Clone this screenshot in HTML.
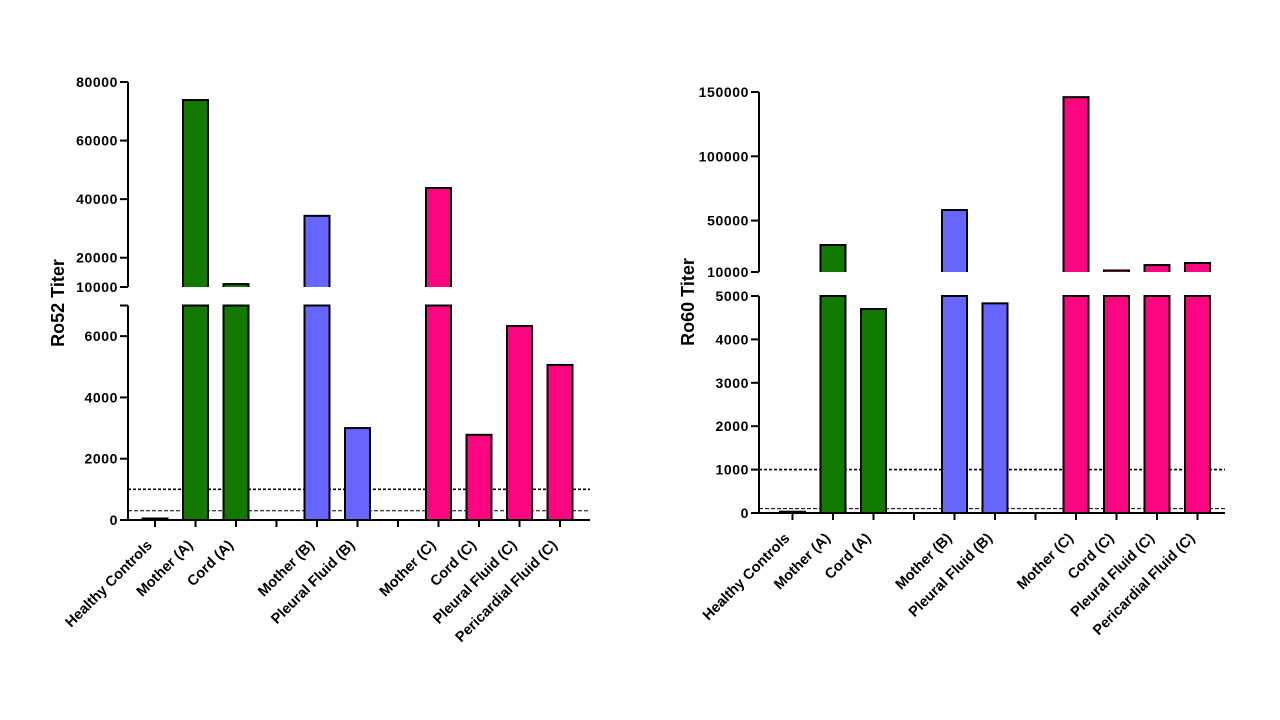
<!DOCTYPE html>
<html><head><meta charset="utf-8"><style>
html,body{margin:0;padding:0;background:#fff;width:1280px;height:720px;overflow:hidden}
svg{display:block}
text{font-family:"Liberation Sans",Arial,sans-serif;font-weight:bold;fill:#000}
</style></head><body>
<svg id="chart" width="1280" height="720" viewBox="0 0 1280 720"></svg>
<script>
const categories = ["Healthy Controls","Mother (A)","Cord (A)","","Mother (B)","Pleural Fluid (B)","","Mother (C)","Cord (C)","Pleural Fluid (C)","Pericardial Fluid (C)"];
const groups = ["none","A","A","gap","B","B","gap","C","C","C","C"];
const ro52Values = [50,73850,11000,null,34300,3000,null,43800,2780,6330,5060];
const ro60Values = [30,31000,4700,null,58200,4830,null,146000,11200,15400,17000];
const ro52UpperTicks = [10000,20000,40000,60000,80000];
const ro52LowerTicks = [0,2000,4000,6000];
const ro60UpperTicks = [10000,50000,100000,150000];
const ro60LowerTicks = [0,1000,2000,3000,4000,5000];
const ro52Cutoffs = [1000,300];
const ro60Cutoffs = [1000,100];

const NS = "http://www.w3.org/2000/svg";
const svg = document.getElementById("chart");
const colorFor = {A:"#127a00",B:"#6666ff",C:"#fb0581",none:"#fff"};
function mk(tag, attrs, parent){
  const e=document.createElementNS(NS,tag);
  for(const k in attrs) e.setAttribute(k,attrs[k]);
  (parent||svg).appendChild(e); return e;
}
function drawChart(cfg){
  const g=mk("g",{});
  
  
  const lo=cfg.lower, up=cfg.upper;
  const yLo=v=>lo.y0-(v-lo.min)/(lo.max-lo.min)*(lo.y0-lo.y1);
  const yUp=v=>up.y0-(v-up.min)/(up.max-up.min)*(up.y0-up.y1);
  const xC=i=>cfg.x0+i*cfg.step;
  cfg.cutoffs.forEach((c,k)=>{
    const l=mk("line",{x1:cfg.axisX,x2:cfg.axisEnd,y1:yLo(c),y2:yLo(c),stroke:"#000","stroke-width":k==0?1.6:1,"stroke-dasharray":k==0?"3,2":"4,2"},g);
    
    
  });
  cfg.values.forEach((v,i)=>{
    if(v===null) return;
    const x=xC(i)-cfg.bw/2, col=colorFor[groups[i]];
    const lowTop=yLo(Math.min(v,lo.max));
    const b=mk("rect",{x:x,y:lowTop,width:cfg.bw,height:Math.max(lo.y0-lowTop,1),fill:col,stroke:"#000","stroke-width":2},g);
    
    
    if(v>up.min){
      const t=yUp(v);
      const b2=mk("rect",{x:x,y:t,width:cfg.bw,height:up.y0-t+2,fill:col,stroke:"#000","stroke-width":2},g);
      
      
      mk("rect",{x:x-2,y:up.y0,width:cfg.bw+4,height:4,fill:"#fff"},g);
    }
  });
  const a1=mk("line",{x1:cfg.axisX,x2:cfg.axisX,y1:lo.y0+1,y2:lo.y1,stroke:"#000","stroke-width":2},g);
  
  
  const a2=mk("line",{x1:cfg.axisX,x2:cfg.axisX,y1:up.y0,y2:up.y1,stroke:"#000","stroke-width":2},g);
  
  
  mk("line",{x1:cfg.axisX-8,x2:cfg.axisX,y1:lo.y1,y2:lo.y1,stroke:"#000","stroke-width":2},g);
  const xa=mk("line",{x1:cfg.axisX-8,x2:cfg.axisEnd,y1:lo.y0,y2:lo.y0,stroke:"#000","stroke-width":2},g);
  
  
  const tick=(y,label)=>{
    mk("line",{x1:cfg.axisX-8,x2:cfg.axisX,y1:y,y2:y,stroke:"#000","stroke-width":2},g);
    const t=mk("text",{x:cfg.axisX-10,y:y+5,"text-anchor":"end","font-size":14,"letter-spacing":"0.6"},g);
    t.textContent=label;
    
    
  };
  cfg.lowerTicks.forEach(v=>tick(yLo(v),v));
  cfg.upperTicks.forEach(v=>tick(yUp(v),v));
  categories.forEach((c,i)=>{
    const x=xC(i);
    mk("line",{x1:x,x2:x,y1:lo.y0,y2:lo.y0+7,stroke:"#000","stroke-width":2},g);
    if(!c) return;
    const tx=x-2, ty=lo.y0+26;
    const t=mk("text",{x:tx,y:ty,"text-anchor":"end","font-size":14.5,transform:`rotate(-45 ${tx} ${ty})`},g);
    t.textContent=c;
    
    
  });
  const tt=mk("text",{x:cfg.titleX,y:cfg.titleY,"text-anchor":"middle","font-size":18,transform:`rotate(-90 ${cfg.titleX} ${cfg.titleY})`},g);
  tt.textContent=cfg.title;
  tt.setAttribute("xml:space","preserve");
  
  
}
drawChart({name:"ro52-chart",values:ro52Values,cutoffs:ro52Cutoffs,title:"Ro52  Titer",titleX:64,titleY:303,
  axisX:128,axisEnd:590,x0:155,step:40.5,bw:25,
  lower:{min:0,max:7000,y0:520,y1:305.5},upper:{min:10000,max:80000,y0:287,y1:82},
  lowerTicks:ro52LowerTicks,upperTicks:ro52UpperTicks});
drawChart({name:"ro60-chart",values:ro60Values,cutoffs:ro60Cutoffs,title:"Ro60  Titer",titleX:694,titleY:302,
  axisX:759,axisEnd:1225,x0:792.5,step:40.5,bw:25,
  lower:{min:0,max:5000,y0:513,y1:296},upper:{min:10000,max:150000,y0:272,y1:92},
  lowerTicks:ro60LowerTicks,upperTicks:ro60UpperTicks});
</script>
</body></html>
